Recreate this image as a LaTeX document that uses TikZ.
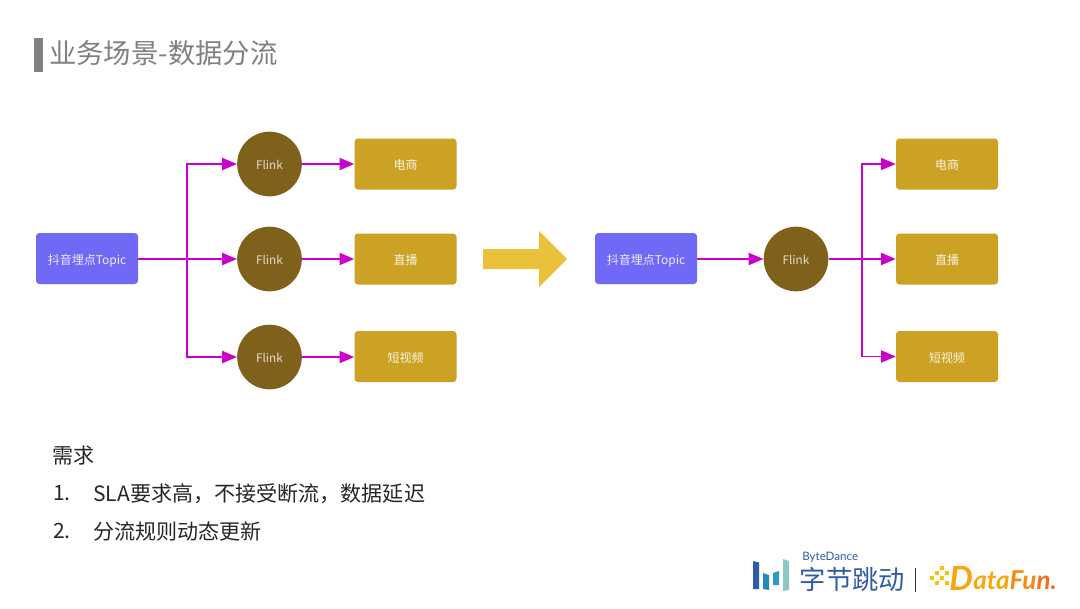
\documentclass[tikz,border=0pt]{standalone}
\usepackage{fontspec}
\setmainfont{Noto Sans CJK SC}
\newfontfamily\logofont{Lato}
\usetikzlibrary{arrows.meta}

\definecolor{linkcol}{HTML}{CC00CC}
\definecolor{topiccol}{HTML}{7069F5}
\definecolor{flinkcol}{HTML}{7F611B}
\definecolor{sinkcol}{HTML}{CBA224}
\definecolor{bigarrowcol}{HTML}{E9C13B}
\definecolor{titlecol}{HTML}{808080}
\definecolor{bytecol}{HTML}{2F5BA8}
\definecolor{funcol}{HTML}{F7A70F}
\definecolor{funredcol}{HTML}{F4701A}

\newcommand{\cnco}{\char"FF0C\relax}

\tikzset{
topicbox/.style={fill=topiccol, rounded corners=2.5pt, minimum width=76.5pt, minimum height=38.25pt, inner sep=0pt, text=white!88!topiccol, text height=9pt, text depth=0.7pt, font=\fontsize{9}{9}\selectfont},
sinkbox/.style={fill=sinkcol, rounded corners=2.5pt, minimum width=76.5pt, minimum height=38.25pt, inner sep=0pt, text=white!88!sinkcol, text height=9pt, text depth=0.7pt, font=\fontsize{9}{9}\selectfont},
flinknode/.style={circle, fill=flinkcol, minimum size=48.5pt, inner sep=0pt, text=white!78!flinkcol, text height=9pt, text depth=0.7pt, font=\fontsize{8.8}{9}\selectfont},
link/.style={draw=linkcol, line width=1.4pt},
linkarrow/.style={link, -{Triangle[length=11pt,width=9pt]}},
bodytext/.style={anchor=west, inner sep=0pt, text=black!85, font=\fontsize{15.8}{16}\selectfont}
}

\begin{document}
\begin{tikzpicture}[x=0.75pt,y=-0.75pt]
\useasboundingbox (0,0) rectangle (1080,608);

% title
\fill [titlecol] (34,38) rectangle (43,72) ;
\node [anchor=west, inner sep=0pt, text=titlecol, font=\fontsize{20.5}{20.5}\selectfont] (title) at (49,53.5) {业务场景-数据分流};

% left side
\node [topicbox] (topicA) at (87,258.5) {抖音埋点Topic};
\node [flinknode] (flinkA) at (269.5,164) {Flink};
\node [flinknode] (flinkB) at (269.5,259) {Flink};
\node [flinknode] (flinkC) at (269.5,357) {Flink};
\node [sinkbox] (shopA) at (405.5,164) {电商};
\node [sinkbox] (liveA) at (405.5,259) {直播};
\node [sinkbox] (videoA) at (405.5,356.5) {短视频};

\coordinate (forkA) at (187,259) ;
\draw [linkarrow] (topicA.east |- flinkB) to (flinkB) ;
\draw [linkarrow] (forkA) |- (flinkA) ;
\draw [linkarrow] (forkA) |- (flinkC) ;
\draw [linkarrow] (flinkA) to (shopA) ;
\draw [linkarrow] (flinkB) to (liveA) ;
\draw [linkarrow] (flinkC) to (videoA.west |- flinkC) ;

% big arrow
\fill [bigarrowcol] (483,249) -- (539,249) -- (539,231) -- (567,259) -- (539,287) -- (539,269) -- (483,269) -- cycle ;

% right side
\node [topicbox] (topicB) at (646,258.5) {抖音埋点Topic};
\node [flinknode] (flinkD) at (796,259) {Flink};
\node [sinkbox] (shopB) at (947,164) {电商};
\node [sinkbox] (liveB) at (947,259) {直播};
\node [sinkbox] (videoB) at (947,356.5) {短视频};

\coordinate (forkB) at (862,259) ;
\draw [linkarrow] (topicB.east |- flinkD) to (flinkD) ;
\draw [linkarrow] (flinkD) to (liveB) ;
\draw [linkarrow] (forkB) |- (shopB) ;
\draw [linkarrow] (forkB) |- (videoB) ;

% requirements
\node [bodytext] (need) at (52,455.5) {需求};
\node [bodytext] (numA) at (53,493.5) {1.};
\node [bodytext] (itemA) at (93,493.5) {SLA要求高\cnco 不接受断流\cnco 数据延迟};
\node [bodytext] (numB) at (53,531) {2.};
\node [bodytext] (itemB) at (93,531) {分流规则动态更新};

% logos
\fill [bytecol] (753,561) -- (759,562.5) -- (759,589) -- (753,589) -- cycle ;
\fill [bytecol!70!cyan] (763,573) -- (769,575) -- (769,590) -- (763,589) -- cycle ;
\fill [cyan!55!teal] (773,573) -- (779,571) -- (779,585) -- (773,585) -- cycle ;
\fill [teal!45!white] (783,559) -- (789,561) -- (789,590) -- (783,591) -- cycle ;
\node [anchor=west, inner sep=0pt, text=bytecol, font=\logofont\fontsize{8.7}{9}\selectfont] (bytename) at (802,557.5) {ByteDance};
\node [anchor=west, inner sep=0pt, text=bytecol, font=\fontsize{19.7}{20}\selectfont] (bytecn) at (799.5,579.5) {字节跳动};
\fill [black!80] (914.5,568) rectangle (916,592) ;
\foreach \sx/\sy in {930/576,935/571,935/581,940/576,940/566,945/571,945/581} {
\fill [funcol!70!yellow] (\sx,\sy) rectangle +(4,4) ;
}
\node [anchor=base west, inner sep=0pt, text=funcol, font=\logofont\bfseries\itshape\fontsize{25}{25}\selectfont] (funletter) at (949,590) {D};
\node [anchor=base west, inner sep=0pt, text=funcol, font=\logofont\bfseries\itshape\fontsize{19.5}{20}\selectfont] (funname) at (973,589.5) {ata\textcolor{funcol!50!funredcol}{Fu}\textcolor{funredcol}{n.}};

\end{tikzpicture}
\end{document}
